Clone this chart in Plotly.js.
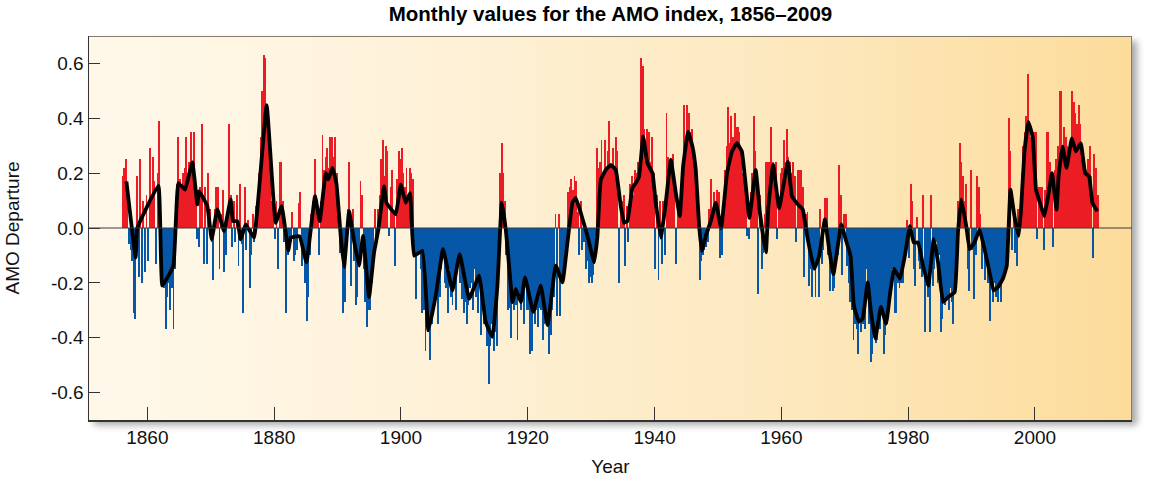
<!DOCTYPE html>
<html><head><meta charset="utf-8">
<script src="https://cdn.plot.ly/plotly-3.0.1.min.js"></script>
<style>
html,body{margin:0;padding:0;background:#fff;}
#wrap{position:relative;width:1152px;height:483px;overflow:hidden;}
#bg{position:absolute;left:89px;top:36px;width:1043px;height:384px;box-sizing:border-box;
  border-top:1px solid #857b68;border-right:1px solid #857b68;
  background:linear-gradient(90deg,#FFF8EA 0%,#FEF2DA 30%,#FDE9C0 65%,#FCDC9B 100%);
  box-shadow:5px 5px 7px rgba(0,0,0,0.35);}
#chart{position:absolute;left:0;top:0;width:1152px;height:483px;}
</style></head><body>
<div id="wrap"><div id="bg"></div><div id="chart"></div></div>
<script>
// First year of the quarterly series
const startYear = 1856;
// AMO departure, four values per year (quarters), 1856-2009
const amoQuarterly = [
 0.19,0.22,0.25,0.12,   // 1856
 -0.06,-0.08,-0.12,-0.31, // 1857
 -0.33,0.19,-0.18,0.25, // 1858
 -0.2,0.1,-0.16,0.12,   // 1859
 -0.12,0.29,0.1,0.26,   // 1860
 0.17,-0.13,0.2,0.39,   // 1861
 0.02,-0.18,-0.22,-0.37, // 1862
 -0.25,-0.2,-0.3,-0.22, // 1863
 -0.37,-0.15,0.16,0.33, // 1864
 0.18,0.16,0.2,0.22,    // 1865
 0.33,0.2,0.24,0.35,    // 1866
 0.24,0.35,0.12,-0.04,  // 1867
 -0.07,0.15,0.38,-0.13, // 1868
 0.15,-0.13,0.2,0.07,   // 1869
 -0.05,-0.19,0.07,0.15, // 1870
 0.15,-0.15,0.05,0.14,  // 1871
 -0.16,-0.1,0.05,0.38,  // 1872
 0.12,-0.07,0.1,-0.05,  // 1873
 0.12,-0.14,0.16,-0.06, // 1874
 -0.31,0.15,-0.08,0.03, // 1875
 -0.22,-0.1,0.05,-0.05, // 1876
 0.08,0.12,0.2,0.33,    // 1877
 0.5,0.63,0.62,0.45,    // 1878
 0.33,0.2,0.1,0.1,      // 1879
 -0.04,0.1,-0.15,0.24,  // 1880
 0.24,0.1,-0.05,-0.31,  // 1881
 -0.1,-0.08,-0.05,0.06, // 1882
 -0.12,-0.1,-0.08,0.09, // 1883
 0.13,-0.14,-0.08,-0.2, // 1884
 -0.34,-0.25,-0.1,0.05, // 1885
 0.1,0.25,0.12,0.05,    // 1886
 -0.1,0.1,0.34,0.21,    // 1887
 0.26,0.29,0.22,0.33,   // 1888
 0.33,0.26,0.33,0.2,    // 1889
 0.1,-0.09,-0.05,-0.31, // 1890
 -0.27,-0.1,0.07,0.24,  // 1891
 -0.21,0.07,-0.12,-0.28, // 1892
 -0.25,-0.1,0.17,0.12,  // 1893
 -0.15,-0.27,-0.36,-0.3, // 1894
 -0.3,-0.2,-0.12,0.07,  // 1895
 -0.05,0.07,0.12,0.25,  // 1896
 0.32,0.19,0.3,0.28,    // 1897
 -0.03,0.15,0.21,0.05,  // 1898
 -0.14,0.18,0.28,0.25,  // 1899
 0.29,0.2,0.15,0.22,    // 1900
 0.1,0.22,0.2,0.18,     // 1901
 -0.1,-0.26,-0.1,-0.08, // 1902
 -0.15,-0.31,-0.3,-0.45, // 1903
 -0.35,-0.38,-0.48,-0.35, // 1904
 -0.3,-0.25,-0.2,-0.35, // 1905
 -0.25,-0.15,-0.1,-0.2, // 1906
 -0.22,-0.31,-0.15,-0.25, // 1907
 -0.28,-0.2,-0.3,-0.15, // 1908
 -0.12,-0.2,-0.26,-0.31, // 1909
 -0.27,-0.35,-0.28,-0.22, // 1910
 -0.2,-0.3,-0.15,-0.25, // 1911
 -0.31,-0.2,-0.39,-0.3, // 1912
 -0.35,-0.3,-0.43,-0.57, // 1913
 -0.43,-0.35,-0.45,-0.38, // 1914
 -0.43,-0.15,0.2,0.31,  // 1915
 0.2,0.1,-0.1,-0.3,     // 1916
 -0.29,-0.4,-0.27,-0.3, // 1917
 -0.28,-0.41,-0.25,-0.3, // 1918
 -0.22,-0.35,-0.2,-0.3, // 1919
 -0.3,-0.46,-0.45,-0.3, // 1920
 -0.35,-0.3,-0.36,-0.29, // 1921
 -0.3,-0.41,-0.35,-0.32, // 1922
 -0.35,-0.46,-0.39,-0.3, // 1923
 -0.25,0.05,-0.32,0.05, // 1924
 -0.32,-0.2,-0.17,-0.15, // 1925
 -0.1,0.13,0.15,0.18,   // 1926
 0.14,0.19,0.17,0.06,   // 1927
 -0.1,0.1,-0.08,-0.05,  // 1928
 -0.15,-0.12,-0.2,-0.18, // 1929
 -0.2,-0.17,-0.12,0.29, // 1930
 0.22,0.24,0.32,0.2,    // 1931
 0.32,0.22,0.28,0.39,   // 1932
 0.23,0.29,0.21,0.33,   // 1933
 0.28,-0.2,0.12,0.1,    // 1934
 0.12,-0.14,0.08,-0.05, // 1935
 0.16,0.19,0.12,0.21,   // 1936
 0.2,0.24,0.22,0.62,    // 1937
 0.59,0.36,0.3,0.36,    // 1938
 0.35,0.24,0.33,0.2,    // 1939
 -0.15,0.12,-0.19,0.1,  // 1940
 -0.13,0.1,-0.1,0.42,   // 1941
 0.26,0.17,0.2,0.27,    // 1942
 0.15,-0.13,0.1,0.07,   // 1943
 0.1,0.22,0.45,0.3,     // 1944
 0.45,0.42,0.35,0.36,   // 1945
 0.29,0.21,0.12,0.05,   // 1946
 -0.19,-0.12,-0.1,-0.08, // 1947
 -0.07,-0.05,0.07,0.18, // 1948
 0.05,0.13,0.08,0.14,   // 1949
 0.13,-0.11,-0.1,0.05,  // 1950
 0.21,0.3,0.44,0.31,    // 1951
 0.41,0.33,0.42,0.37,   // 1952
 0.37,0.35,0.28,0.2,    // 1953
 0.2,0.12,-0.03,-0.04,  // 1954
 0.13,0.2,0.41,0.28,    // 1955
 0.2,-0.24,0.12,-0.15,  // 1956
 -0.09,0.05,0.24,0.24,  // 1957
 0.24,0.37,0.24,0.22,   // 1958
 0.24,-0.04,0.07,0.2,   // 1959
 0.22,0.32,0.24,0.36,   // 1960
 0.26,0.24,0.2,0.24,    // 1961
 0.19,-0.05,0.21,0.21,  // 1962
 0.21,0.15,-0.18,0.05,  // 1963
 0.06,-0.21,-0.15,-0.25, // 1964
 -0.15,-0.25,-0.13,-0.25, // 1965
 0.07,-0.13,-0.08,0.11, // 1966
 0.11,-0.1,-0.23,-0.15, // 1967
 -0.23,-0.22,-0.12,-0.1, // 1968
 0.23,0.12,-0.17,0.05,  // 1969
 0.05,-0.14,-0.2,-0.27, // 1970
 -0.3,-0.41,-0.35,-0.37, // 1971
 -0.46,-0.34,-0.38,-0.35, // 1972
 -0.37,-0.15,-0.25,-0.35, // 1973
 -0.49,-0.46,-0.4,-0.42, // 1974
 -0.41,-0.35,-0.37,-0.3, // 1975
 -0.46,-0.39,-0.35,-0.3, // 1976
 -0.26,-0.2,-0.15,-0.31, // 1977
 -0.31,-0.2,-0.22,-0.2, // 1978
 -0.2,-0.12,-0.08,0.03, // 1979
 -0.11,0.16,0.1,-0.15,  // 1980
 -0.21,0.04,-0.12,-0.15, // 1981
 -0.18,0.12,-0.38,-0.21, // 1982
 -0.25,-0.38,0.12,-0.21, // 1983
 -0.15,-0.05,-0.2,-0.1, // 1984
 -0.38,-0.33,-0.27,-0.28, // 1985
 -0.25,-0.3,-0.22,-0.27, // 1986
 -0.35,-0.22,-0.05,0.1, // 1987
 0.31,0.24,0.19,0.1,    // 1988
 0.16,-0.15,-0.23,0.21, // 1989
 -0.08,-0.26,-0.1,0.19, // 1990
 0.15,0.05,-0.15,-0.08, // 1991
 -0.19,-0.12,-0.2,-0.34, // 1992
 -0.22,-0.27,-0.2,-0.25, // 1993
 -0.27,-0.22,-0.27,-0.2, // 1994
 -0.18,-0.15,-0.1,0.4,  // 1995
 0.28,-0.08,0.05,-0.09, // 1996
 -0.14,0.07,0.05,0.2,   // 1997
 0.3,0.35,0.41,0.56,    // 1998
 0.39,0.33,0.3,0.35,    // 1999
 0.35,-0.04,0.15,0.15,  // 2000
 0.15,-0.08,0.14,0.35,  // 2001
 0.35,0.24,0.2,-0.07,   // 2002
 0.21,0.25,0.3,0.5,     // 2003
 0.5,0.3,0.37,0.33,     // 2004
 0.3,0.26,0.3,0.5,      // 2005
 0.46,0.42,0.38,0.45,   // 2006
 0.38,0.3,0.25,0.21,    // 2007
 0.21,0.25,0.3,0.19,    // 2008
 -0.11,0.27,0.22,0.12   // 2009
];
// Smoothed AMO curve (black line): years and values
const smoothYears = [1856.7,1858.16,1858.42,1861.74,1862.37,1864.1,1864.89,1865.94,1867.1,1867.89,1868.15,1869.46,1870.15,1871.04,1872.09,1873.14,1873.51,1874.2,1874.72,1875.51,1875.93,1876.83,1878.82,1880.24,1881.19,1882.24,1882.61,1884.0,
 1885.09,1886.45,1887.19,1888.14,1888.56,1889.19,1889.82,1890.5,1891.03,1891.82,1892.6,1893.39,1894.02,1894.97,1895.76,1896.44,1897.34,1897.71,1899.18,1899.97,1900.75,1901.44,1902.07,1903.38,1904.33,1905.49,1906.64,1908.11,1909.27,1910.75,1912.32,1913.37,1914.42,1915.21,1915.9,1916.53,
 1917.1,1917.59,1918.11,1918.9,1919.58,1920.85,1922.05,1923.11,1924.42,1925.47,1926.26,1927.05,1927.57,1928.36,1929.42,1930.47,1930.99,1931.52,1932.31,1933.1,1933.88,1934.67,1935.2,1935.72,1936.51,1937.04,1937.56,1938.2,1938.88,1939.67,1940.19,1940.98,1941.77,1942.56,1943.35,1943.98,1944.5,1945.29,1945.98,1946.5,1947.03,1947.45,1948.08,1948.87,1949.66,1950.5,
 1951.43,1952.21,1952.99,1953.77,1954.29,1954.96,1955.95,1956.62,1957.56,1957.92,1958.7,1959.64,1961.04,1961.66,1962.6,1963.38,1964.16,1965.19,1965.97,1966.86,1967.53,1968.21,1969.45,1970.13,1970.91,1971.43,1972.21,1972.83,1973.61,1974.13,1974.81,1975.69,1976.52,1977.14,1977.77,1978.7,1979.48,1980.26,1980.88,1981.56,1982.34,1983.17,
 1984.03,1984.71,1985.5,1986.28,1987.33,1987.85,1988.38,1989.16,1989.69,1990.47,1991.26,1992.04,1992.83,1993.46,1994.14,1994.92,1995.55,1996.13,1996.75,1997.43,1997.8,1998.32,1998.95,1999.63,2000.16,2000.94,2001.47,2001.99,2002.67,2003.4,2003.72,2004.35,2004.97,2005.81,2006.44,2007.23,2007.91,2008.53,2009.06,2009.84];
const smoothValues = [0.17,-0.107,0.0,0.154,-0.21,-0.138,0.164,0.14,0.239,0.086,0.134,0.08,-0.041,0.068,-0.011,0.104,0.025,0.025,-0.041,0.013,-0.002,-0.035,0.448,0.019,0.08,-0.083,-0.035,-0.03,
 -0.125,0.116,0.025,0.2,0.177,0.219,0.163,-0.029,-0.143,0.061,-0.047,-0.137,-0.029,-0.252,-0.089,-0.005,0.152,0.092,0.05,0.158,0.092,0.127,-0.101,-0.083,-0.373,-0.246,-0.077,-0.228,-0.095,-0.258,-0.174,-0.343,-0.397,-0.212,0.092,-0.005,
 -0.15,-0.27,-0.222,-0.27,-0.18,-0.306,-0.21,-0.354,-0.137,-0.198,-0.053,0.092,0.11,0.055,-0.029,-0.125,-0.029,0.176,0.212,0.23,0.212,0.08,0.019,0.025,0.146,0.164,0.188,0.333,0.236,0.2,0.092,-0.035,0.092,0.248,0.128,0.043,0.224,0.351,0.297,0.212,0.007,-0.083,-0.029,0.025,0.092,0.0,
 0.2,0.279,0.309,0.279,0.176,0.037,0.212,0.055,-0.089,0.067,0.23,0.073,0.242,0.116,0.086,0.067,-0.041,-0.149,-0.101,0.031,-0.077,-0.168,0.013,-0.041,-0.101,-0.282,-0.342,-0.33,-0.198,-0.306,-0.403,-0.288,-0.349,-0.24,-0.149,-0.185,-0.101,0.007,-0.053,-0.053,-0.137,-0.21,
 -0.041,-0.125,-0.27,-0.252,-0.234,-0.017,0.104,0.007,-0.077,-0.053,-0.005,-0.077,-0.161,-0.228,-0.216,-0.186,-0.137,0.14,0.044,-0.029,0.067,0.273,0.387,0.333,0.14,0.08,0.043,0.104,0.2,0.067,0.188,0.297,0.219,0.327,0.279,0.309,0.2,0.188,0.092,0.061];
// Axis ticks
const xTickVals = [1860,1880,1900,1920,1940,1960,1980,2000];
const yTickVals = [-0.6,-0.4,-0.2,0.0,0.2,0.4,0.6];
const yTickText = ['-0.6','-0.4','-0.2','0.0','0.2','0.4','0.6'];

const qx = amoQuarterly.map((v,i)=> startYear + i*0.25 + 0.125);
const posY = amoQuarterly.map(v => v >= 0 ? v : null);
const negY = amoQuarterly.map(v => v < 0 ? v : null);

const traces = [
 {type:'bar', x:qx, y:posY, width:0.3, marker:{color:'#EC1C24', line:{width:0}}, hoverinfo:'skip'},
 {type:'bar', x:qx, y:negY, width:0.3, marker:{color:'#0657A7', line:{width:0}}, hoverinfo:'skip'},
 {type:'scatter', mode:'lines', x:smoothYears, y:smoothValues, line:{color:'#000', width:3.8, shape:'spline', smoothing:0.3}, hoverinfo:'skip'}
];
const fontFam = '"Liberation Sans", Arial, Helvetica, sans-serif';
const layout = {
 width:1152, height:483,
 margin:{l:89, r:20, t:36, b:63, pad:0},
 paper_bgcolor:'rgba(0,0,0,0)', plot_bgcolor:'rgba(0,0,0,0)',
 font:{family:fontFam, color:'#111', size:19},
 showlegend:false, barmode:'overlay', bargap:0,
 title:{text:'Monthly values for the AMO index, 1856–2009', x:0.5, xref:'paper', xanchor:'center', y:0.972, yanchor:'middle', yref:'container',
   font:{family:fontFam, size:20.5, weight:700, color:'#000'}},
 xaxis:{range:[1850.8,2015.3], tickvals:xTickVals, ticktext:xTickVals.map(String), ticks:'inside', ticklen:13, tickwidth:1, tickcolor:'#333',
   showline:true, linecolor:'#333', linewidth:1.5, mirror:false, showgrid:false, zeroline:false,
   tickfont:{size:19}, title:{text:'Year', font:{size:19}, standoff:12}},
 yaxis:{range:[-0.7,0.7], tickvals:yTickVals, ticktext:yTickText, ticks:'inside', ticklen:11, tickwidth:1, tickcolor:'#333',
   showline:true, linecolor:'#333', linewidth:1.5, mirror:false, showgrid:false, zeroline:false,
   tickfont:{size:19}, title:{text:'AMO Departure', font:{size:19}, standoff:26}},
 shapes:[{type:'line', xref:'paper', x0:0, x1:1, yref:'y', y0:0, y1:0, line:{color:'#3a3a3a', width:1}, layer:'above'}]
};
Plotly.newPlot('chart', traces, layout, {displayModeBar:false, staticPlot:true});
</script>
</body></html>
